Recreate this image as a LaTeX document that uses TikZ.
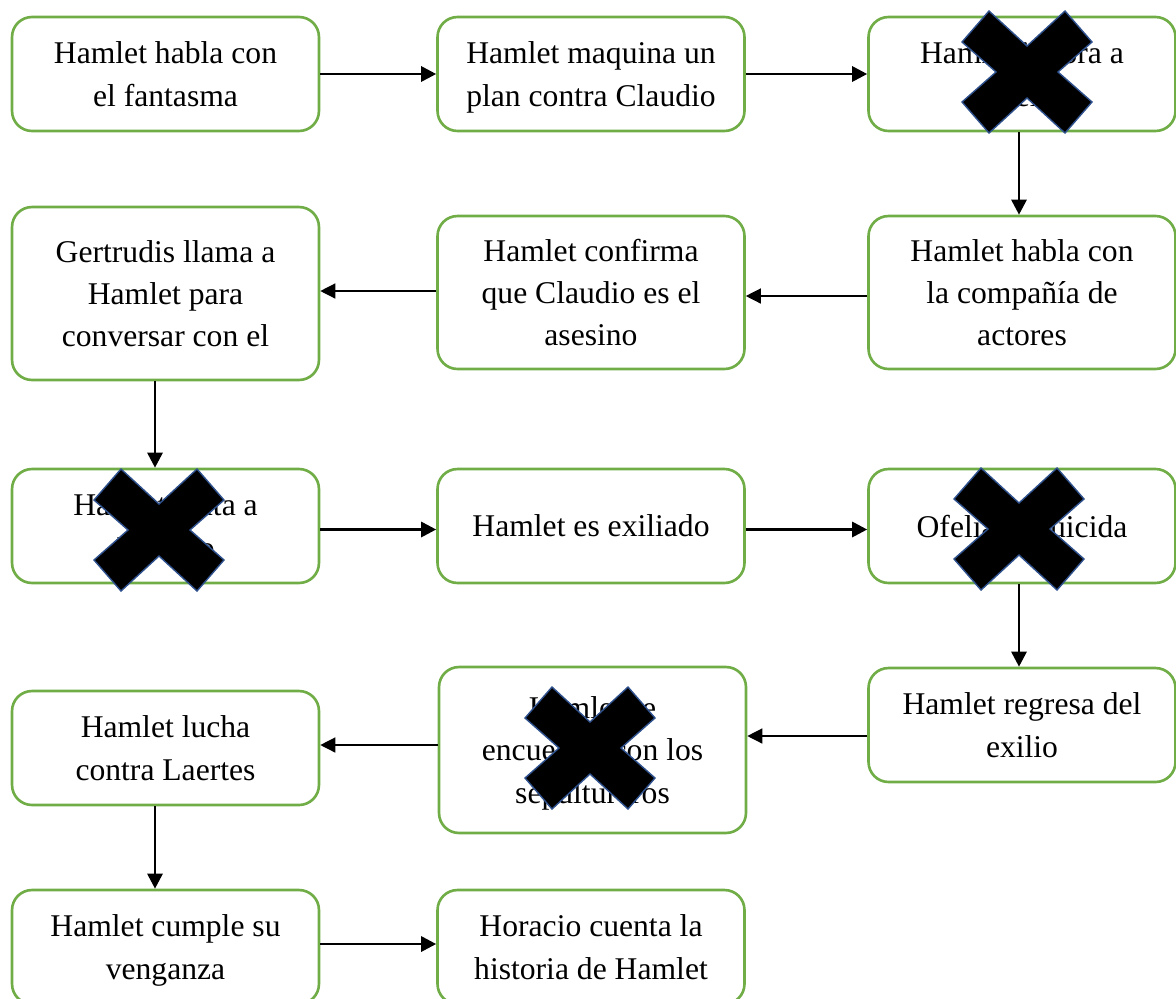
\documentclass[tikz,border=0pt]{standalone}
\usepackage{fontspec}
\setmainfont{Liberation Serif}
\usetikzlibrary{arrows.meta}
\definecolor{verde}{HTML}{70AD47}
\definecolor{azulx}{HTML}{2F528F}
\newcommand{\tacha}[1]{%
  \draw[tachado,shift={(#1)}] (-38,-61) -- (0,-26) -- (38,-61) -- (65,-30) -- (31,0) -- (65,30)
    -- (38,61) -- (0,26) -- (-38,61) -- (-65,30) -- (-31,0) -- (-65,-30) -- cycle;}
\tikzset{
  paso/.style={draw=verde, line width=1.5pt, rounded corners=0.4cm, minimum width=6.14cm,
    minimum height=2.28cm, align=center, font=\fontsize{18}{24}\selectfont, text depth=0pt},
  tachado/.style={fill=black, draw=azulx, line width=0.8pt},
  grueso/.style={->, line width=1.6pt},
  fino/.style={->, line width=0.75pt},
  >={Triangle[length=0.3cm,width=0.3cm]}
}

\begin{document}
\begin{tikzpicture}[x=0.02cm, y=-0.02cm]
    \useasboundingbox (0,0) rectangle (1176,998);
    \node[paso] (fantasma) at (165.5,74) {Hamlet habla con\\el fantasma};
    \node[paso] (plan) at (591,74) {Hamlet maquina un\\plan contra Claudio};
    \node[paso] (ofelia) at (1022,74) {Hamlet ignora a\\Ofelia};
    \node[paso, minimum height=3.06cm] (actores) at (1022,292.5) {Hamlet habla con\\la compañía de\\actores};
    \node[paso, minimum height=3.06cm] (asesino) at (591,292.5) {Hamlet confirma\\que Claudio es el\\asesino};
    \node[paso, minimum height=3.46cm] (gertrudis) at (165.5,293.5) {Gertrudis llama a\\Hamlet para\\conversar con el};
    \node[paso] (polonio) at (165.5,526) {Hamlet mata a\\Polonio};
    \node[paso] (exilio) at (591,526) {Hamlet es exiliado};
    \node[paso] (suicidio) at (1022,526) {Ofelia se suicida};
    \node[paso] (regreso) at (1022,725) {Hamlet regresa del\\exilio};
    \node[paso, minimum height=3.32cm] (sepultureros) at (592.5,750) {Hamlet se\\encuentra con los\\sepultureros};
    \node[paso] (laertes) at (165.5,748) {Hamlet lucha\\contra Laertes};
    \node[paso] (venganza) at (165.5,947) {Hamlet cumple su\\venganza};
    \node[paso] (horacio) at (591,947) {Horacio cuenta la\\historia de Hamlet};

    \draw[grueso] (fantasma) -- (plan);
    \draw[grueso] (plan) -- (ofelia);
    \draw[grueso] ([xshift=-0.06cm]ofelia.south) -- ([xshift=-0.06cm]actores.north);
    \draw[fino] ([yshift=-0.07cm]actores.west) -- ([yshift=-0.07cm]asesino.east);
    \draw[fino] ([yshift=0.03cm]asesino.west) -- ([yshift=0.03cm]asesino.west -| gertrudis.east);
    \draw[grueso] ([xshift=-0.21cm]gertrudis.south) -- ([xshift=-0.21cm]polonio.north);
    \draw[grueso] ([yshift=-0.07cm]polonio.east) -- ([yshift=-0.07cm]exilio.west);
    \draw[grueso] ([yshift=-0.07cm]exilio.east) -- ([yshift=-0.07cm]suicidio.west);
    \draw[grueso] ([xshift=-0.06cm]suicidio.south) -- ([xshift=-0.06cm]regreso.north);
    \draw[fino] ([yshift=-0.22cm]regreso.west) -- ([yshift=-0.22cm]regreso.west -| sepultureros.east);
    \draw[fino] ([yshift=0.1cm]sepultureros.west) -- ([yshift=0.1cm]sepultureros.west -| laertes.east);
    \draw[grueso] ([xshift=-0.21cm]laertes.south) -- ([xshift=-0.21cm]venganza.north);
    \draw[grueso] ([yshift=0.06cm]venganza.east) -- ([yshift=0.06cm]horacio.west);

    % tachones
    \tacha{1027,72}
    \tacha{159,530}
    \tacha{1019,529}
    \tacha{590,748}
\end{tikzpicture}
\end{document}
